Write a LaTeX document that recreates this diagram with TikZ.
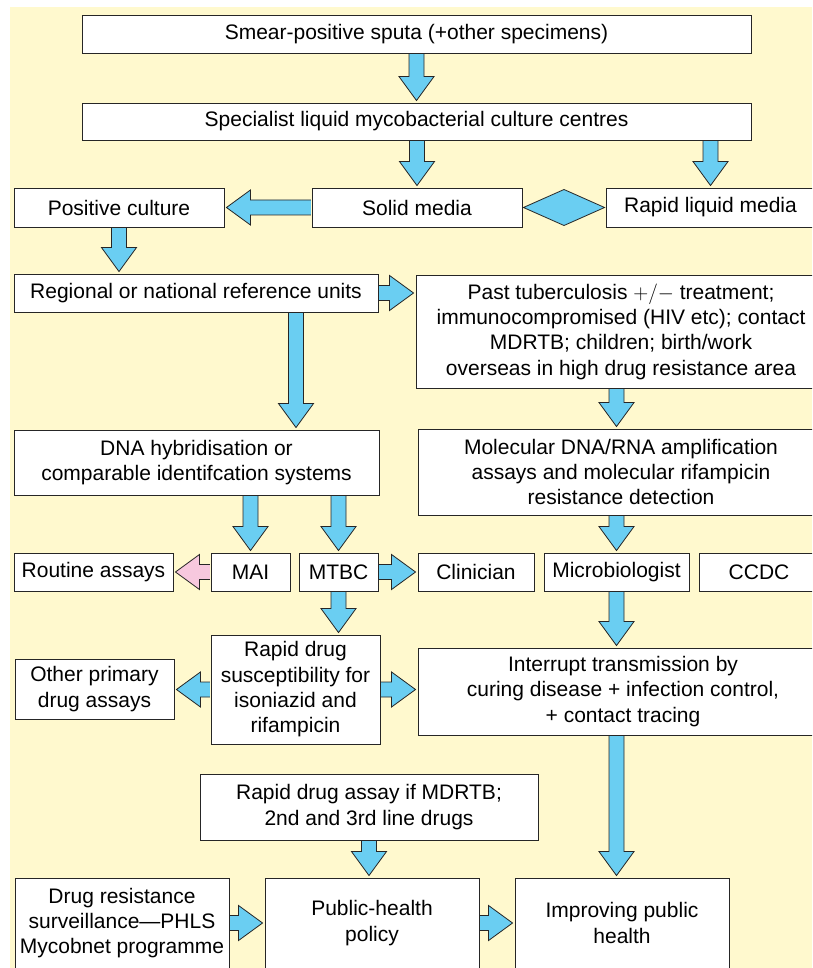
\documentclass[tikz,border=0pt]{standalone}
\usepackage{fontspec}
\setmainfont{Liberation Sans}
\usepackage{xcolor}
\usepackage{tikz}
\usetikzlibrary{shapes.geometric, arrows, positioning, calc}
\definecolor{paperyellow}{RGB}{255,249,206}
\definecolor{arrowblue}{RGB}{106,206,242}
\definecolor{pinkfill}{RGB}{247,200,222}
\tikzstyle{box} = [rectangle, draw=black!85, line width=0.9pt, fill=white, align=center, inner sep=2pt, font=\fontsize{21}{25.3}\selectfont]
\tikzstyle{blockarrow} = [draw=black!85, line width=0.8pt, line join=miter]

% block arrows: start node anchor, target node anchor
\newcommand{\darr}[3][arrowblue]{%
  \draw[blockarrow, fill=#1] let \p1=(#2), \p2=(#3) in
    (\x1-7.5pt,\y1-0.6pt) -- (\x1-7.5pt,\y2+26pt) -- (\x1-17.5pt,\y2+26pt) -- (\x1,\y2+2pt)
    -- (\x1+17.5pt,\y2+26pt) -- (\x1+7.5pt,\y2+26pt) -- (\x1+7.5pt,\y1-0.6pt);}
\newcommand{\rarr}[3][arrowblue]{%
  \draw[blockarrow, fill=#1] let \p1=(#2), \p2=(#3) in
    (\x1+0.6pt,\y1+7.5pt) -- (\x2-26pt,\y1+7.5pt) -- (\x2-26pt,\y1+17.5pt) -- (\x2-2pt,\y1)
    -- (\x2-26pt,\y1-17.5pt) -- (\x2-26pt,\y1-7.5pt) -- (\x1+0.6pt,\y1-7.5pt);}
\newcommand{\larr}[3][arrowblue]{%
  \draw[blockarrow, fill=#1] let \p1=(#2), \p2=(#3) in
    (\x1-0.6pt,\y1+7.5pt) -- (\x2+26pt,\y1+7.5pt) -- (\x2+26pt,\y1+17.5pt) -- (\x2+2pt,\y1)
    -- (\x2+26pt,\y1-17.5pt) -- (\x2+26pt,\y1-7.5pt) -- (\x1-0.6pt,\y1-7.5pt);}

\begin{document}
\begin{tikzpicture}[x=1pt, y=-1pt]
    \useasboundingbox (0,0) rectangle (812,968);
    \clip (0,0) rectangle (812,968);
    \fill[paperyellow] (10,7) rectangle (812,968);

    % Specimens and culture
    \node [box, minimum width=669, minimum height=38] (smear) at (416.5,34) {Smear-positive sputa (+other specimens)};
    \node [box, minimum width=669, minimum height=37] (spec) at (416.5,121.5) {Specialist liquid mycobacterial culture centres};
    \node [box, minimum width=210, minimum height=39] (poscult) at (119,207.5) {Positive culture};
    \node [box, minimum width=210, minimum height=39] (solid) at (417,207.5) {Solid media};
    \node [box, minimum width=209, minimum height=39] (rapidliq) at (710.5,207.5) {Rapid liquid media};

    % Reference units
    \node [box, minimum width=364, minimum height=38] (regional) at (196,293) {Regional or national reference units};
    \node [box, minimum width=410, minimum height=113] (past) at (621,331.5) {Past tuberculosis $+/-$ treatment;\\ immunocompromised (HIV etc); contact\\ MDRTB; children; birth/work\\ overseas in high drug resistance area};
    \node [box, minimum width=365, minimum height=65] (dna) at (196.5,462.5) {DNA hybridisation or\\ comparable identifcation systems};
    \node [box, minimum width=406, minimum height=86] (molec) at (621,472) {Molecular DNA/RNA amplification\\ assays and molecular rifampicin\\ resistance detection};

    % Identification row
    \node [box, minimum width=159, minimum height=38] (routine) at (93.5,572) {Routine assays};
    \node [box, minimum width=79, minimum height=38] (mai) at (250.5,572) {MAI};
    \node [box, minimum width=79, minimum height=38] (mtbc) at (338.5,572) {MTBC};
    \node [box, minimum width=116, minimum height=38] (clin) at (476,572) {Clinician};
    \node [box, minimum width=145, minimum height=38] (micro) at (616.5,572) {Microbiologist};
    \node [box, minimum width=120, minimum height=38] (ccdc) at (759,572) {CCDC};

    % Drug assays and control
    \node [box, minimum width=159, minimum height=60] (other) at (94.5,689) {Other primary\\ drug assays};
    \node [box, minimum width=169, minimum height=109] (rapiddrug) at (295.5,689.5) {Rapid drug\\ susceptibility for\\ isoniazid and\\ rifampicin};
    \node [box, minimum width=410, minimum height=87] (interrupt) at (623,691.5) {Interrupt transmission by\\ curing disease + infection control,\\ + contact tracing};
    \node [box, minimum width=338, minimum height=66] (mdrtb) at (369,807) {Rapid drug assay if MDRTB;\\ 2nd and 3rd line drugs};

    % Public health
    \node [box, minimum width=214, minimum height=90] (drugres) at (122,923) {Drug resistance\\ surveillance---PHLS\\ Mycobnet programme};
    \node [box, minimum width=214, minimum height=90] (policy) at (372,923) {Public-health\\ policy};
    \node [box, minimum width=214, minimum height=90] (improve) at (622,923) {Improving public\\ health};

    % Block arrows
    \darr{smear.south}{spec.north}
    \darr{spec.south -| solid.north}{solid.north}
    \darr{spec.south -| rapidliq.north}{rapidliq.north}
    \larr{solid.west}{poscult.east}
    \draw [blockarrow, fill=arrowblue] ([xshift=1pt]solid.east) -- ($(solid.east)!0.5!(rapidliq.west)+(0,-18)$)
        -- ([xshift=-1pt]rapidliq.west) -- ($(solid.east)!0.5!(rapidliq.west)+(0,18)$) -- cycle;
    \darr{poscult.south}{regional.north}
    \rarr{regional.east}{past.west}
    \darr{[xshift=100pt]regional.south}{dna.north}
    \darr{past.south -| micro.north}{molec.north}
    \darr{molec.south -| micro.north}{micro.north}
    \darr{micro.south}{interrupt.north}
    \darr{dna.south -| mai.north}{mai.north}
    \darr{dna.south -| mtbc.north}{mtbc.north}
    \larr[pinkfill]{mai.west}{routine.east}
    \rarr{mtbc.east}{clin.west}
    \darr{mtbc.south}{rapiddrug.north}
    \larr{rapiddrug.west}{other.east}
    \rarr{rapiddrug.east}{interrupt.west}
    \darr{interrupt.south -| micro.north}{improve.north}
    \darr{mdrtb.south}{policy.north}
    \rarr{drugres.east}{policy.west}
    \rarr{policy.east}{improve.west}
\end{tikzpicture}
\end{document}
